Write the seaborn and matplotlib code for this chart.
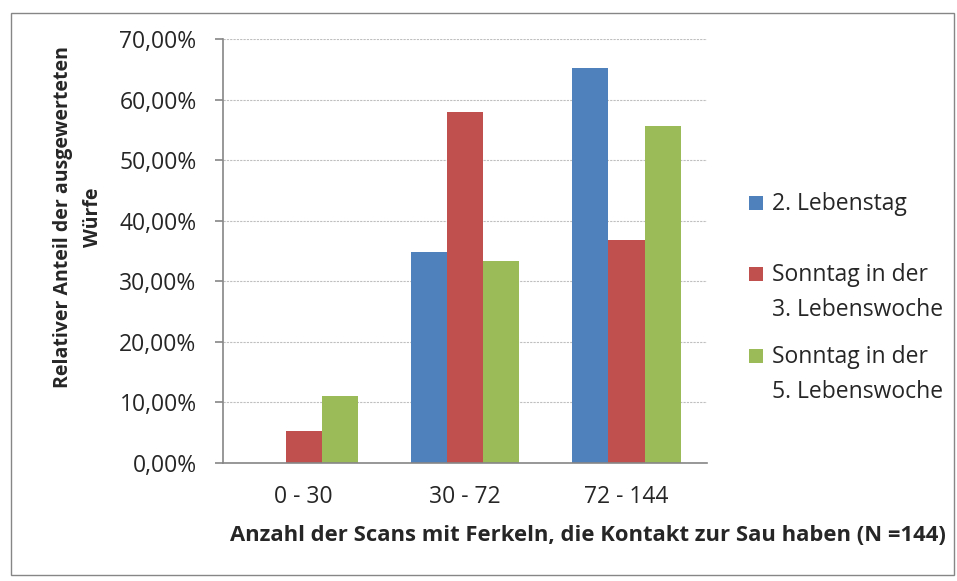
import numpy as np
import pandas as pd
import matplotlib
matplotlib.use('Agg')
import matplotlib.pyplot as plt
import matplotlib.ticker as mticker
from matplotlib.patches import Rectangle
import seaborn as sns

# --- Data ---
categories = ['0 - 30', '30 - 72', '72 - 144']
series = ['2. Lebenstag', 'Sonntag in der\n3. Lebenswoche', 'Sonntag in der\n5. Lebenswoche']
tag2 = [0.0, 34.78, 65.22]
woche3 = [5.26, 57.89, 36.84]
woche5 = [11.11, 33.33, 55.56]
colors = ['#4F81BD', '#C0504D', '#9BBB59']

df = pd.DataFrame({
    'Kategorie': categories * 3,
    'Serie': [series[0]] * 3 + [series[1]] * 3 + [series[2]] * 3,
    'Wert': tag2 + woche3 + woche5,
})

# --- Plot ---
sns.set_style('white')
plt.rcParams['font.family'] = ['Open Sans', 'DejaVu Sans']

fig = plt.figure(figsize=(9.57, 5.81), dpi=100)
ax = fig.add_axes([0.233, 0.203, 0.506, 0.730])

sns.barplot(data=df, x='Kategorie', y='Wert', hue='Serie', palette=colors,
            width=0.67, saturation=1, ax=ax, edgecolor='none', legend=False)

ax.set_ylim(0, 70)
ax.set_xlim(-0.5, 2.5)
ax.yaxis.set_major_locator(mticker.MultipleLocator(10))
ax.yaxis.set_major_formatter(mticker.FuncFormatter(lambda v, p: f'{v:.2f}%'.replace('.', ',')))
ax.yaxis.grid(True, color='#BFBFBF', linestyle=(0, (2, 1)), linewidth=0.8)
ax.set_axisbelow(True)

# category separators as ticks
ax.set_xticks([0, 1, 2])
ax.set_xticks([-0.5, 0.5, 1.5, 2.5], minor=True)
ax.tick_params(axis='x', which='major', length=0, pad=16, labelsize=16.5)
ax.tick_params(axis='x', which='minor', length=6, color='#868686', width=1.2)
ax.tick_params(axis='y', length=6, color='#868686', width=1.2, labelsize=16.5,
               left=True, pad=13)

for s in ['top', 'right']:
    ax.spines[s].set_visible(False)
for s in ['left', 'bottom']:
    ax.spines[s].set_color('#868686')
    ax.spines[s].set_linewidth(1.2)

ax.set_xlabel('')
ax.set_ylabel('Relativer Anteil der ausgewerteten\nWürfe', fontsize=14, fontweight='bold',
              linespacing=1.65)
ax.yaxis.label.set_va('center')
ax.yaxis.set_label_coords(-0.299, 0.58)

fig.text(0.614, 0.079, 'Anzahl der Scans mit Ferkeln, die Kontakt zur Sau haben (N =144)',
         ha='center', va='center', fontsize=15.8, fontweight='bold')

# legend, Excel style: marker next to the first line of each entry
leg_y = [203, 274, 356]
for name, col, yp in zip(series, colors, leg_y):
    fig.patches.append(Rectangle((749 / 957, 1 - (yp + 7) / 581), 14 / 957, 14 / 581,
                                 transform=fig.transFigure, facecolor=col, edgecolor='none'))
    fig.text(772 / 957, 1 - (yp - 11) / 581, name, ha='left', va='top', fontsize=16.5,
             linespacing=1.62)

# outer chart border
fig.patches.append(Rectangle((0.011, 0.010), 0.986, 0.967, transform=fig.transFigure,
                             fill=False, edgecolor='#868686', linewidth=1))

fig.savefig('out.png', dpi=100)
